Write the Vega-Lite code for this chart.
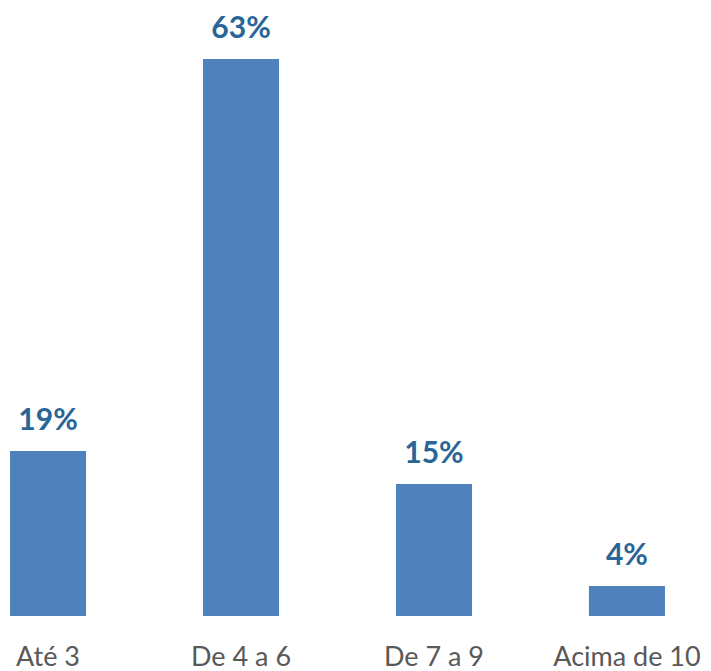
{
  "$schema": "https://vega.github.io/schema/vega-lite/v6.json",
  "width": 675,
  "height": 616,
  "autosize": {"type": "none"},
  "padding": {"left": 0, "top": 0, "right": 36, "bottom": 55},
  "background": "white",
  "config": {"view": {"stroke": null}},
  "data": {
    "values": [
      {"faixa": "Até 3", "valor": 18.66, "rotulo": "19%"},
      {"faixa": "De 4 a 6", "valor": 63, "rotulo": "63%"},
      {"faixa": "De 7 a 9", "valor": 14.93, "rotulo": "15%"},
      {"faixa": "Acima de 10", "valor": 3.39, "rotulo": "4%"}
    ]
  },
  "encoding": {
    "x": {
      "field": "faixa",
      "type": "nominal",
      "sort": null,
      "scale": {"paddingInner": 0.606, "paddingOuter": 0.052},
      "axis": {
        "title": null,
        "domain": false,
        "ticks": false,
        "tickSize": 0,
        "labelAngle": 0,
        "labelFont": "Lato",
        "labelFontSize": 27,
        "labelColor": "#595959",
        "labelBaseline": "alphabetic",
        "labelPadding": 49
      }
    },
    "y": {
      "field": "valor",
      "type": "quantitative",
      "scale": {"domain": [0, 69.67], "nice": false},
      "axis": null
    }
  },
  "layer": [
    {"mark": {"type": "bar", "color": "#4F81BD"}},
    {
      "mark": {
        "type": "text",
        "baseline": "alphabetic",
        "dy": -21,
        "font": "Lato",
        "fontSize": 30,
        "fontWeight": "bold",
        "color": "#2A6597"
      },
      "encoding": {"text": {"field": "rotulo"}}
    }
  ]
}
